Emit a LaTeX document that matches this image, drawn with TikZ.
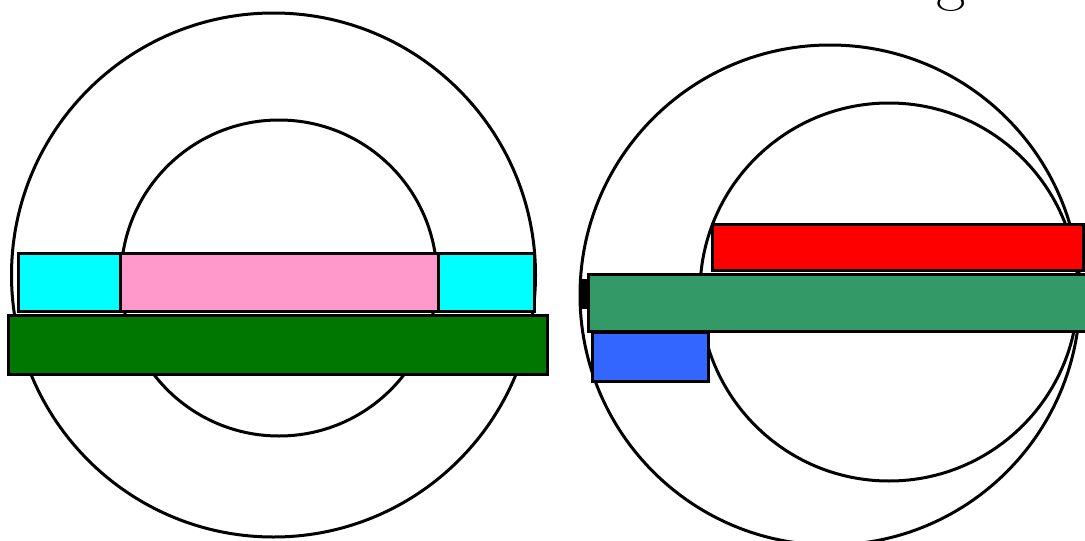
\documentclass[tikz,border=0pt]{standalone}
\begin{document}
\begin{tikzpicture}[x=1pt,y=-1pt,line width=3pt,
  ring/.style={draw=black},
  bar/.style={draw=black,line join=miter}]
\definecolor{cy}{HTML}{00FFFF}
\definecolor{pk}{HTML}{FF99CC}
\definecolor{gr}{HTML}{007700}
\definecolor{rd}{HTML}{FF0000}
\definecolor{sg}{HTML}{339966}
\definecolor{bl}{HTML}{3366FF}
\useasboundingbox (0,0) rectangle (1085,541);
\clip (0,0) rectangle (1085,541);
% left
\draw[ring] (273.5,275) circle (262);
\draw[ring] (279,278) circle (158);
\draw[bar,fill=cy] (18,253) rectangle (120,311);
\draw[bar,fill=pk] (120,253) rectangle (438,311);
\draw[bar,fill=cy] (438,253) rectangle (534,311);
\draw[bar,fill=gr] (8,315) rectangle (547,374);
% right
\draw[ring] (830,295) circle (250);
\draw[ring] (889,292) circle (189);
\draw[bar,fill=rd] (712,224) rectangle (1083,270);
\draw[bar,fill=black] (582,280) rectangle (588,307);
\draw[bar,fill=sg] (588,274) rectangle (1090,331);
\draw[bar,fill=bl] (592,332) rectangle (708,381);
\node[anchor=base,inner sep=0pt,font=\fontsize{64}{72}\selectfont] (g) at (951,-2) {g};
\end{tikzpicture}
\end{document}
